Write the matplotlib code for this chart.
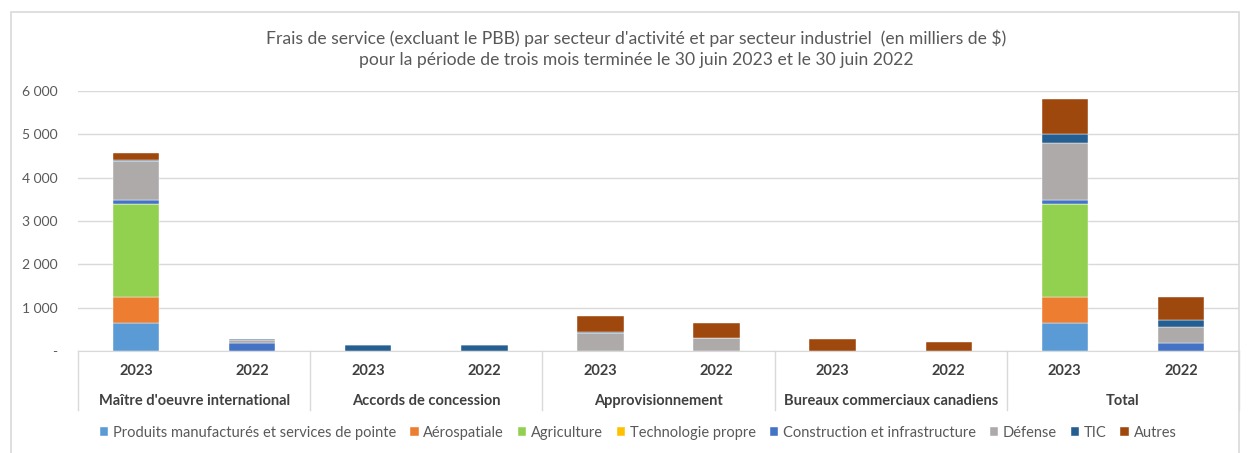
import matplotlib
matplotlib.use("Agg")
import matplotlib.pyplot as plt
import numpy as np
from matplotlib.ticker import FuncFormatter
from matplotlib.patches import Rectangle

plt.rcParams['font.family'] = ['Lato', 'DejaVu Sans']

groups = ["Maître d'oeuvre international", "Accords de concession",
          "Approvisionnement", "Bureaux commerciaux canadiens"]
years = ["2023", "2022"]
series = ["Produits manufacturés et services de pointe", "Aérospatiale", "Agriculture",
          "Technologie propre", "Construction et infrastructure", "Défense", "TIC", "Autres"]
colors = ["#5B9BD5", "#ED7D31", "#92D050", "#FFC000", "#4472C4", "#AEAAAA", "#255E91", "#9E480E"]

# values per group/year (in thousands of $), order of series above
maitre_2023 = [638, 616, 2146, 0, 77, 908, 30, 162]
maitre_2022 = [0, 0, 0, 0, 190, 55, 30, 0]
accords_2023 = [0, 0, 0, 0, 0, 0, 146, 0]
accords_2022 = [0, 0, 0, 0, 0, 0, 135, 0]
approv_2023 = [0, 0, 0, 0, 0, 423, 25, 360]
approv_2022 = [0, 0, 0, 0, 0, 310, 0, 335]
bureaux_2023 = [0, 0, 0, 0, 0, 0, 0, 280]
bureaux_2022 = [0, 0, 0, 0, 0, 0, 0, 200]

rows = [maitre_2023, maitre_2022, accords_2023, accords_2022,
        approv_2023, approv_2022, bureaux_2023, bureaux_2022]
total_2023 = list(np.sum([maitre_2023, accords_2023, approv_2023, bureaux_2023], axis=0))
total_2022 = list(np.sum([maitre_2022, accords_2022, approv_2022, bureaux_2022], axis=0))
rows += [total_2023, total_2022]
all_groups = groups + ["Total"]

data = np.array(rows, dtype=float)  # (10, 8)

W, H = 1248, 453
fig = plt.figure(figsize=(W / 100, H / 100), dpi=100)
# chart border
fig.patches.append(Rectangle((11 / W, -0.01), (1239 - 11) / W, (H - 12) / H + 0.01,
                             transform=fig.transFigure, fill=False,
                             edgecolor="#D9D9D9", linewidth=1.2))

ax = fig.add_axes([78 / W, 1 - 351 / H, (1239 - 78) / W, (351 - 91) / H])
x = np.arange(len(rows)) + 0.5
bottom = np.zeros(len(rows))
handles = []
for j, name in enumerate(series):
    h = ax.bar(x, data[:, j], width=0.4, bottom=bottom, color=colors[j],
               edgecolor="white", linewidth=0.3, label=name, zorder=3)
    handles.append(h)
    bottom += data[:, j]

ax.set_xlim(0, len(rows))
ax.set_ylim(0, 6000)
ax.set_yticks(range(0, 6001, 1000))
ax.yaxis.set_major_formatter(FuncFormatter(
    lambda v, p: "-" if v == 0 else f"{int(v):,}".replace(",", " ")))
ax.grid(axis="y", color="#D9D9D9", linewidth=1, zorder=0)
ax.tick_params(axis="y", length=0, labelsize=10, labelcolor="#595959", pad=15)
ax.tick_params(axis="x", length=0, labelbottom=False)
for s in ["top", "right", "left"]:
    ax.spines[s].set_visible(False)
ax.spines["bottom"].set_color("#D9D9D9")

# category axis (two levels)
trans = ax.get_xaxis_transform()
axh = (351 - 91)
def ay(ypix):
    return (351 - ypix) / axh
for i, xi in enumerate(x):
    ax.text(xi, ay(371), years[i % 2], transform=trans, ha="center", va="center",
            fontsize=10.5, fontweight="bold", color="#404040", clip_on=False)
for g, name in enumerate(all_groups):
    ax.text(2 * g + 1, ay(401), name, transform=trans, ha="center", va="center",
            fontsize=10.5, fontweight="bold", color="#404040", clip_on=False)
for g in range(len(all_groups) + 1):
    ax.plot([2 * g, 2 * g], [0, ay(410)], transform=trans, color="#D9D9D9",
            linewidth=1, clip_on=False)

fig.text(636 / W, 1 - 38 / H,
         "Frais de service (excluant le PBB) par secteur d'activité et par secteur industriel  (en milliers de $)",
         ha="center", va="center", fontsize=12.6, color="#595959")
fig.text(636 / W, 1 - 60 / H,
         "pour la période de trois mois terminée le 30 juin 2023 et le 30 juin 2022",
         ha="center", va="center", fontsize=12.6, color="#595959")

fig.legend(handles=handles, labels=series, loc="center", bbox_to_anchor=(638 / W, 1 - 433 / H),
           ncol=8, frameon=False, fontsize=10.5, handlelength=0.6, handleheight=0.6,
           handletextpad=0.3, columnspacing=0.95, labelcolor="#595959")

fig.savefig("out.png", dpi=100)
